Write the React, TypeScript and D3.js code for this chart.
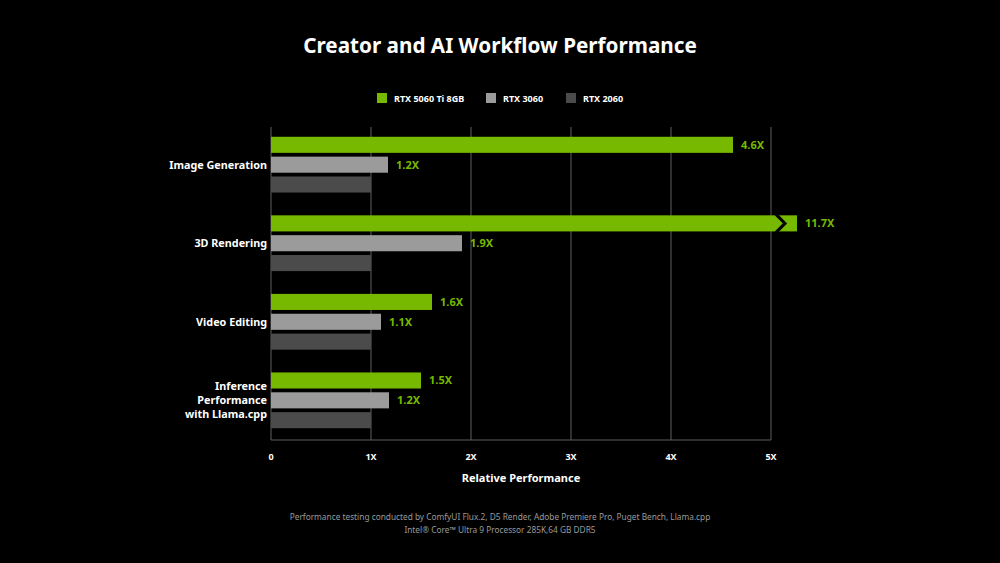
import React from 'react'
import * as d3 from 'd3'

// chart data
const categories = ['Image Generation', '3D Rendering', 'Video Editing', 'Inference Performance with Llama.cpp']
const categoryLines = [['Image Generation'], ['3D Rendering'], ['Video Editing'], ['Inference', 'Performance', 'with Llama.cpp']]
const seriesNames = ['RTX 5060 Ti 8GB', 'RTX 3060', 'RTX 2060']
const rtx5060ti = [4.62, 11.7, 1.61, 1.5]
const rtx3060 = [1.17, 1.91, 1.1, 1.18]
const rtx2060 = [1, 1, 1, 1]
const xTicks = [0, 1, 2, 3, 4, 5]
const tickLabels = ['0', '1X', '2X', '3X', '4X', '5X']
const footnotes = [
  'Performance testing conducted by ComfyUI Flux.2, D5 Render, Adobe Premiere Pro, Puget Bench, Llama.cpp',
  'Intel\u00AE Core\u2122 Ultra 9 Processor 285K,64 GB DDR5',
]

const colors = ['#76b900', '#9b9b9b', '#4b4b4b']
const FONT = '"Noto Sans", "Open Sans", sans-serif'

export default function App() {
  const width = 1000
  const height = 563
  const plot = {left: 271, right: 771, top: 127, bottom: 440}

  const x = d3.scaleLinear().domain([0, 5]).range([plot.left, plot.right])
  const y = d3.scaleBand().domain(categories).range([125, 440]).paddingInner(0.29).paddingOuter(0.15)
  const inner = d3.scaleBand().domain(seriesNames).range([0, y.bandwidth()]).paddingInner(0.19)

  const series = [rtx5060ti, rtx3060, rtx2060]
  const maxShown = 5.26 // bars beyond the axis are cut with a break mark

  return (
    <div style={{position: 'fixed', left: 0, top: 0, width, height, background: '#000'}}>
      <svg width={width} height={height} style={{display: 'block', fontFamily: FONT}}>
        <rect width={width} height={height} fill="#000" />
        <text x={500} y={53} textAnchor="middle" fill="#fff" fontSize={20.7} fontWeight={700}>
          Creator and AI Workflow Performance
        </text>

        {/* legend */}
        {[377, 486, 566].map((lx, i) => (
          <g key={i}>
            <rect x={lx} y={93} width={10} height={10} fill={colors[i]} />
            <text x={lx + 17} y={102} fill="#fff" fontSize={9} fontWeight={700}>
              {seriesNames[i]}
            </text>
          </g>
        ))}

        {/* grid */}
        {xTicks.map(t => (
          <line key={t} x1={x(t)} x2={x(t)} y1={plot.top} y2={plot.bottom} stroke="#5f5f5f" strokeWidth={1} />
        ))}
        <line x1={plot.left} x2={plot.right} y1={plot.bottom} y2={plot.bottom} stroke="#5f5f5f" strokeWidth={1} />

        {/* bars */}
        {categories.map((c, ci) =>
          series.map((s, si) => {
            const v = s[ci]
            const by = (y(c) ?? 0) + (inner(seriesNames[si]) ?? 0)
            const bh = inner.bandwidth()
            const bw = x(Math.min(v, maxShown)) - x(0)
            const cut = v > maxShown
            const bx = x(5) + 5
            return (
              <g key={c + si}>
                <rect x={x(0)} y={by} width={bw} height={bh} fill={colors[si]} />
                {cut && (
                  <polyline
                    points={`${bx},${by - 1} ${bx + 9},${by + bh / 2} ${bx},${by + bh + 1}`}
                    fill="none"
                    stroke="#000"
                    strokeWidth={3}
                  />
                )}
                {si < 2 && (
                  <text x={x(0) + bw + 8} y={by + bh / 2 + 4} fill="#76b900" fontSize={11} fontWeight={700}>
                    {d3.format('.1f')(v)}X
                  </text>
                )}
              </g>
            )
          }),
        )}

        {/* category labels */}
        {categories.map((c, ci) => {
          const lines = categoryLines[ci]
          const cy = (y(c) ?? 0) + y.bandwidth() / 2
          return (
            <text key={c} x={267} textAnchor="end" fill="#fff" fontSize={10.8} fontWeight={700}>
              {lines.map((l, li) => (
                <tspan key={li} x={267} y={cy + 4 + (li - (lines.length - 1) / 2) * 14}>
                  {l}
                </tspan>
              ))}
            </text>
          )
        })}

        {/* x axis labels */}
        {xTicks.map((t, i) => (
          <text key={t} x={x(t)} y={460} textAnchor="middle" fill="#fff" fontSize={9} fontWeight={700}>
            {tickLabels[i]}
          </text>
        ))}
        <text x={521} y={482} textAnchor="middle" fill="#fff" fontSize={11} fontWeight={700}>
          Relative Performance
        </text>

        {footnotes.map((f, i) => (
          <text key={i} x={500} y={520 + i * 12.5} textAnchor="middle" fill="#9a9a9a" fontSize={8.3}>
            {f}
          </text>
        ))}
      </svg>
    </div>
  )
}
